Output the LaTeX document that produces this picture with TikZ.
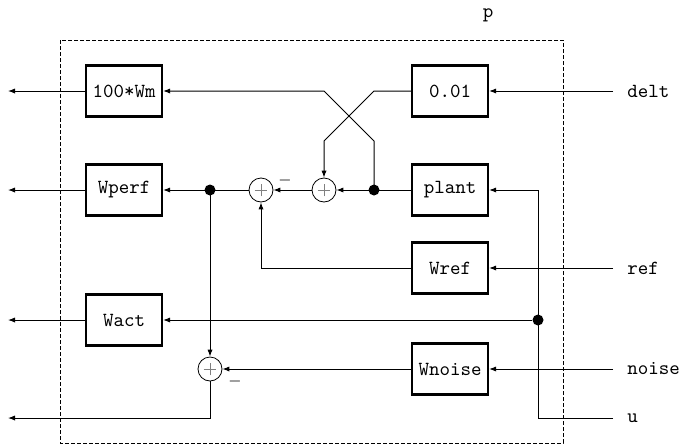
\documentclass[tikz,border=0pt]{standalone}
\usetikzlibrary{arrows.meta}
\begin{document}
\begin{tikzpicture}[x=0.5pt,y=-0.5pt,
  blk/.style={draw,line width=1.1pt,minimum width=38pt,minimum height=25.5pt,inner sep=0pt,font=\ttfamily},
  sumnode/.style={draw,circle,line width=0.4pt,minimum size=12pt,inner sep=0pt,
    path picture={\draw[gray,line width=0.4pt]
      ([xshift=-3.2pt]path picture bounding box.center) -- ([xshift=3.2pt]path picture bounding box.center)
      ([yshift=-3.2pt]path picture bounding box.center) -- ([yshift=3.2pt]path picture bounding box.center);}},
  dotnode/.style={circle,fill,inner sep=0pt,minimum size=5.5pt},
  lbl/.style={font=\ttfamily,anchor=west,inner xsep=7pt,inner ysep=0pt},
  sig/.style={line width=0.5pt,-{Latex[length=3.5pt,width=2.6pt]}},
  wire/.style={line width=0.5pt},
  minus/.style={inner sep=0pt,font=\footnotesize}]
\useasboundingbox (0,0) rectangle (679,445);
\draw[line width=0.5pt,dash pattern=on 2pt off 1pt] (60,40) rectangle (563,443);
\node[font=\ttfamily] (p) at (488,15) {p};

% blocks
\node[blk] (wm) at (124,91) {100*Wm};
\node[blk] (k) at (450,91) {0.01};
\node[blk] (wperf) at (124,190) {Wperf};
\node[blk] (plant) at (450,190) {plant};
\node[blk] (wref) at (450,268) {Wref};
\node[blk] (wact) at (124,320) {Wact};
\node[blk] (wnoise) at (450,369) {Wnoise};

% sums and dots
\node[sumnode] (s1) at (261,190) {};
\node[sumnode] (s2) at (324,190) {};
\node[sumnode] (s3) at (210,369) {};
\node[dotnode] (d1) at (374,190) {};
\node[dotnode] (d2) at (210,190) {};
\node[dotnode] (d3) at (538,320) {};
\node[minus] (m1) at (285,180) {$-$};
\node[minus] (m3) at (235,381) {$-$};

% external labels
\node[lbl] (delt) at (613,91) {delt};
\node[lbl] (ref) at (613,268) {ref};
\node[lbl] (noise) at (613,369) {noise};
\node[lbl] (u) at (613,418) {u};

% outputs
\coordinate (o1) at (8,91);
\coordinate (o2) at (8,190);
\coordinate (o3) at (8,320);
\coordinate (o4) at (8,418);

% bends
\coordinate (xa) at (374,91);
\coordinate (xb) at (324,141);
\coordinate (xc) at (374,141);
\coordinate (xd) at (324,91);
\coordinate (ub) at (538,418);

% connectors
\draw[sig] (delt.west) -- (k.east);
\draw[sig] (ref.west) -- (wref.east);
\draw[sig] (noise.west) -- (wnoise.east);
\draw[sig] (u.west) -- (ub) -- (ub |- plant) -- (plant.east);
\draw[sig] (d3) -- (wact.east);

\draw[sig] (k.west) -- (xa) -- (xb) -- (s2.north);
\draw[sig] (d1.center) -- (xc) -- (xd) -- (wm.east);
\draw[sig] (plant.west) -- (s2.east);
\draw[sig] (s2.west) -- (s1.east);
\draw[sig] (s1.west) -- (wperf.east);
\draw[sig] (wref.west) -- (s1 |- wref) -- (s1.south);
\draw[sig] (d2.center) -- (s3.north);
\draw[sig] (wnoise.west) -- (s3.east);

\draw[sig] (wm.west) -- (o1);
\draw[sig] (wperf.west) -- (o2);
\draw[sig] (wact.west) -- (o3);
\draw[sig] (s3.south) -- (s3 |- o4) -- (o4);
\end{tikzpicture}
\end{document}
